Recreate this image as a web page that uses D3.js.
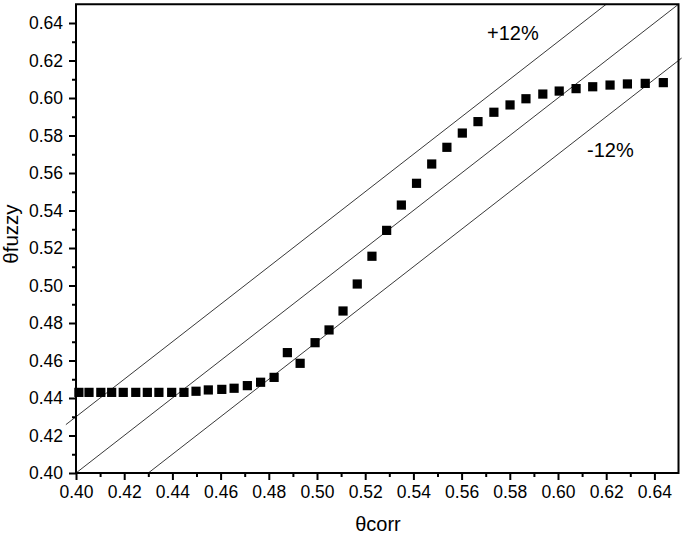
<!DOCTYPE html>
<html>
<head>
<meta charset="utf-8">
<script src="https://cdn.jsdelivr.net/npm/d3@7"></script>
<style>
  body { margin: 0; background: #fff; }
  svg { display: block; font-family: "Liberation Sans", Arial, sans-serif; }
</style>
</head>
<body>
<svg id="chart" width="685" height="535"></svg>
<script>
// theta_corr vs theta_fuzzy
var thetaCorr = [0.4012, 0.4054, 0.4103, 0.4148, 0.4196, 0.4248, 0.4296, 0.4344, 0.4397, 0.4448,
  0.4498, 0.4549, 0.4605, 0.4656, 0.4711, 0.4766, 0.4822, 0.4877, 0.4930, 0.4992,
  0.5050, 0.5108, 0.5167, 0.5228, 0.5289, 0.5350, 0.5413, 0.5476, 0.5539, 0.5603,
  0.5668, 0.5734, 0.5801, 0.5867, 0.5937, 0.6005, 0.6075, 0.6144, 0.6216, 0.6288,
  0.6362, 0.6437];
var thetaFuzzy = [0.4430, 0.4430, 0.4430, 0.4430, 0.4430, 0.4430, 0.4430, 0.4430, 0.4430, 0.4430,
  0.4436, 0.4443, 0.4446, 0.4452, 0.4466, 0.4484, 0.4510, 0.4642, 0.4585, 0.4695,
  0.4763, 0.4864, 0.5008, 0.5156, 0.5294, 0.5429, 0.5545, 0.5648, 0.5737, 0.5813,
  0.5874, 0.5924, 0.5963, 0.5996, 0.6021, 0.6037, 0.6050, 0.6060, 0.6069, 0.6075,
  0.6078, 0.6082];

// reference lines: y = x and the +/-12% band
var identityLine = [[0.40, 0.40], [0.65, 0.65]];
var upperLine = [[0.3958, 0.4258], [0.62, 0.65]];
var lowerLine = [[0.43, 0.40], [0.6513, 0.6213]];

var majorTicks = d3.range(0, 13).map(function(i) { return +(0.40 + i * 0.02).toFixed(2); });
var minorTicks = d3.range(0, 12).map(function(i) { return +(0.41 + i * 0.02).toFixed(2); });

var svg = d3.select("#chart");
var padL = 76, padR = 678.5, padT = 4.25, padB = 473;

var x = d3.scaleLinear().domain([0.40, 0.65]).range([padL, padR]);
var y = d3.scaleLinear().domain([0.40, 0.65]).range([padB, padT]);

var line = d3.line().x(function(d) { return x(d[0]); }).y(function(d) { return y(d[1]); });

[identityLine, upperLine, lowerLine].forEach(function(l) {
  svg.append("path")
    .attr("d", line(l))
    .attr("fill", "none")
    .attr("stroke", "#222")
    .attr("stroke-width", 0.9);
});

// points
svg.append("g").selectAll("rect")
  .data(thetaCorr)
  .join("rect")
  .attr("x", function(d) { return x(d) - 4.6; })
  .attr("y", function(d, i) { return y(thetaFuzzy[i]) - 4.6; })
  .attr("width", 9.2)
  .attr("height", 9.2)
  .attr("fill", "#000");

// axes
function styleAxis(g) {
  g.select(".domain").remove();
  g.selectAll(".tick line").attr("stroke", "#000").attr("stroke-width", 2);
  g.selectAll(".tick text").attr("font-size", "17.5px").attr("fill", "#000")
    .attr("font-family", "'Liberation Sans', Arial, sans-serif");
}

var xAxis = svg.append("g").attr("transform", "translate(0," + padB + ")")
  .call(d3.axisBottom(x).tickValues(majorTicks).tickSize(7).tickPadding(6).tickFormat(d3.format(".2f")));
styleAxis(xAxis);
var xMinor = svg.append("g").attr("transform", "translate(0," + padB + ")")
  .call(d3.axisBottom(x).tickValues(minorTicks).tickSize(4).tickFormat(""));
styleAxis(xMinor);

var yAxis = svg.append("g").attr("transform", "translate(" + padL + ",0)")
  .call(d3.axisLeft(y).tickValues(majorTicks).tickSize(7).tickPadding(6).tickFormat(d3.format(".2f")));
styleAxis(yAxis);
var yMinor = svg.append("g").attr("transform", "translate(" + padL + ",0)")
  .call(d3.axisLeft(y).tickValues(minorTicks).tickSize(4).tickFormat(""));
styleAxis(yMinor);

// frame
svg.append("rect")
  .attr("x", padL).attr("y", padT)
  .attr("width", padR - padL).attr("height", padB - padT)
  .attr("fill", "none").attr("stroke", "#000").attr("stroke-width", 2);

// band labels
svg.append("text").attr("x", 487).attr("y", 40).attr("font-size", "20px").text("+12%");
svg.append("text").attr("x", 587).attr("y", 156.5).attr("font-size", "20px").text("-12%");

// axis titles
svg.append("text").attr("x", 378).attr("y", 531).attr("text-anchor", "middle")
  .attr("font-size", "20px").text("θcorr");
svg.append("text").attr("transform", "translate(18,234) rotate(-90)").attr("text-anchor", "middle")
  .attr("font-size", "20.5px").text("θfuzzy");
</script>
</body>
</html>
